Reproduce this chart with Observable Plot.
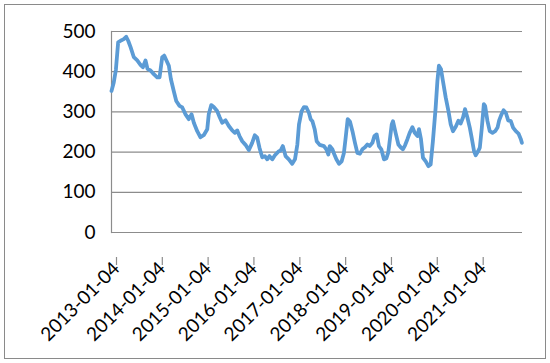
<!DOCTYPE html>
<html>
<head>
<meta charset="utf-8">
<script src="https://cdn.jsdelivr.net/npm/d3@7"></script>
<script src="https://cdn.jsdelivr.net/npm/@observablehq/plot@0.6"></script>
<style>
  html, body { margin: 0; padding: 0; background: #fff; }
  #wrap { position: relative; width: 550px; height: 363px; overflow: hidden; }
  #border { position: absolute; left: 4px; top: 4px; width: 540px; height: 353px; border: 1.5px solid #8a8a8a; }
  #chart { position: absolute; left: 0; top: 0; }
</style>
</head>
<body>
<div id="wrap"><div id="border"></div><div id="chart"></div></div>
<script>
const dates = [
"2013-01-04","2013-01-22","2013-02-08","2013-02-26","2013-03-17","2013-04-12","2013-05-01","2013-05-17","2013-06-05","2013-07-01",
"2013-07-28","2013-08-23","2013-09-11","2013-10-02","2013-10-18","2013-11-11","2013-12-07","2014-01-03","2014-01-22","2014-02-12",
"2014-02-28","2014-03-18","2014-04-06","2014-04-22","2014-05-15","2014-06-04","2014-06-30","2014-07-22","2014-08-17","2014-09-12",
"2014-10-04","2014-10-22","2014-11-18","2014-12-14","2015-01-09","2015-02-06","2015-02-18","2015-03-10","2015-03-30","2015-04-26",
"2015-05-17","2015-06-05","2015-07-02","2015-07-28","2015-08-24","2015-09-14","2015-10-03","2015-10-21","2015-11-12","2015-12-08",
"2016-01-03","2016-01-30","2016-02-20","2016-03-10","2016-03-28","2016-04-19","2016-05-10","2016-05-29","2016-06-16","2016-07-08",
"2016-07-29","2016-08-25","2016-09-12","2016-09-30","2016-10-22","2016-11-17","2016-12-14","2017-01-05","2017-01-24","2017-02-06",
"2017-02-27","2017-03-18","2017-04-06","2017-04-26","2017-05-10","2017-05-24","2017-06-11","2017-06-27","2017-07-21","2017-08-24",
"2017-09-12","2017-09-28","2017-10-09","2017-10-30","2017-11-15","2017-12-01","2017-12-22","2018-01-12","2018-01-30","2018-02-13",
"2018-03-01","2018-03-19","2018-04-08","2018-04-28","2018-05-17","2018-06-07","2018-06-26","2018-07-17","2018-08-05","2018-08-23",
"2018-09-14","2018-09-30","2018-10-18","2018-11-05","2018-11-24","2018-12-15","2019-01-03","2019-01-19","2019-02-15","2019-02-25",
"2019-03-18","2019-04-09","2019-04-27","2019-05-15","2019-06-01","2019-06-20","2019-07-08","2019-07-30","2019-08-17","2019-09-08",
"2019-09-20","2019-10-06","2019-10-22","2019-11-13","2019-12-04","2019-12-22","2020-01-09","2020-01-31","2020-02-14","2020-02-26",
"2020-03-13","2020-03-29","2020-04-20","2020-05-12","2020-05-30","2020-06-17","2020-07-09","2020-07-30","2020-08-17","2020-09-05",
"2020-09-21","2020-10-10","2020-10-29","2020-11-13","2020-12-02","2020-12-15","2021-01-03","2021-01-17","2021-02-02","2021-02-18",
"2021-02-28","2021-03-19","2021-04-06","2021-04-28","2021-05-19","2021-06-07","2021-06-20","2021-07-09","2021-07-25","2021-08-12",
"2021-08-31","2021-09-21","2021-10-09","2021-10-31","2021-11-21","2021-12-10","2021-12-18"
];
const values = [
352,373,405,473,477,481,487,477,461,436,
428,417,411,428,407,403,394,386,386,436,
440,428,415,382,352,327,315,311,294,282,
294,273,252,237,242,257,294,317,312,302,
286,273,279,265,254,248,254,240,227,218,
205,223,242,236,211,187,190,182,190,182,
192,201,204,215,190,182,171,182,219,269,
302,312,311,298,282,277,257,227,218,215,
207,194,215,207,194,182,171,177,198,236,
282,276,252,223,198,196,207,212,219,215,
223,240,244,215,207,182,184,200,269,277,
248,219,212,207,217,232,248,262,248,240,
257,232,186,177,165,169,227,311,377,415,
407,377,336,302,269,252,263,278,271,286,
307,286,261,236,202,192,202,211,261,319,
315,277,252,248,252,261,279,294,304,298,
279,277,261,252,246,232,223
];
const yTicks = [0, 100, 200, 300, 400, 500];
const xTickLabels = ["2013-01-04","2014-01-04","2015-01-04","2016-01-04","2017-01-04","2018-01-04","2019-01-04","2020-01-04","2021-01-04"];
const xStart = "2013-01-04";
const xEnd = "2021-12-23";

const parse = d3.utcParse("%Y-%m-%d");
const fmt = d3.utcFormat("%Y-%m-%d");
const data = dates.map((d, i) => ({date: parse(d), value: values[i]}));
const xTicks = xTickLabels.map(parse);

const gridColor = "#8c8c8c";
const font = "Lato, 'Open Sans', sans-serif";

const chart = Plot.plot({
  width: 550,
  height: 363,
  marginLeft: 111,
  marginRight: 28,
  marginTop: 31,
  marginBottom: 131,
  style: {fontFamily: font, fontSize: "19px", color: "#000", background: "transparent"},
  x: {type: "utc", domain: [parse(xStart), parse(xEnd)]},
  y: {domain: [0, 500]},
  marks: [
    Plot.gridY(yTicks, {stroke: gridColor, strokeOpacity: 1, strokeWidth: 1.2}),
    Plot.frame({anchor: "left", stroke: gridColor, strokeWidth: 1.2}),
    Plot.axisY(yTicks, {tickSize: 0, tickPadding: 16, label: null, fontSize: 19, fill: "#000"}),
    Plot.axisX(xTicks, {
      tickSize: 8, tickPadding: 0, stroke: gridColor, strokeWidth: 1.2,
      tickRotate: -45, tickFormat: fmt, label: null, fontSize: 19, fill: "#000",
      dx: 5, dy: 25
    }),
    Plot.lineY(data, {x: "date", y: "value", stroke: "#5b9bd5", strokeWidth: 3.8, curve: "linear", strokeLinejoin: "round"})
  ]
});
document.getElementById("chart").appendChild(chart);
</script>
</body>
</html>
